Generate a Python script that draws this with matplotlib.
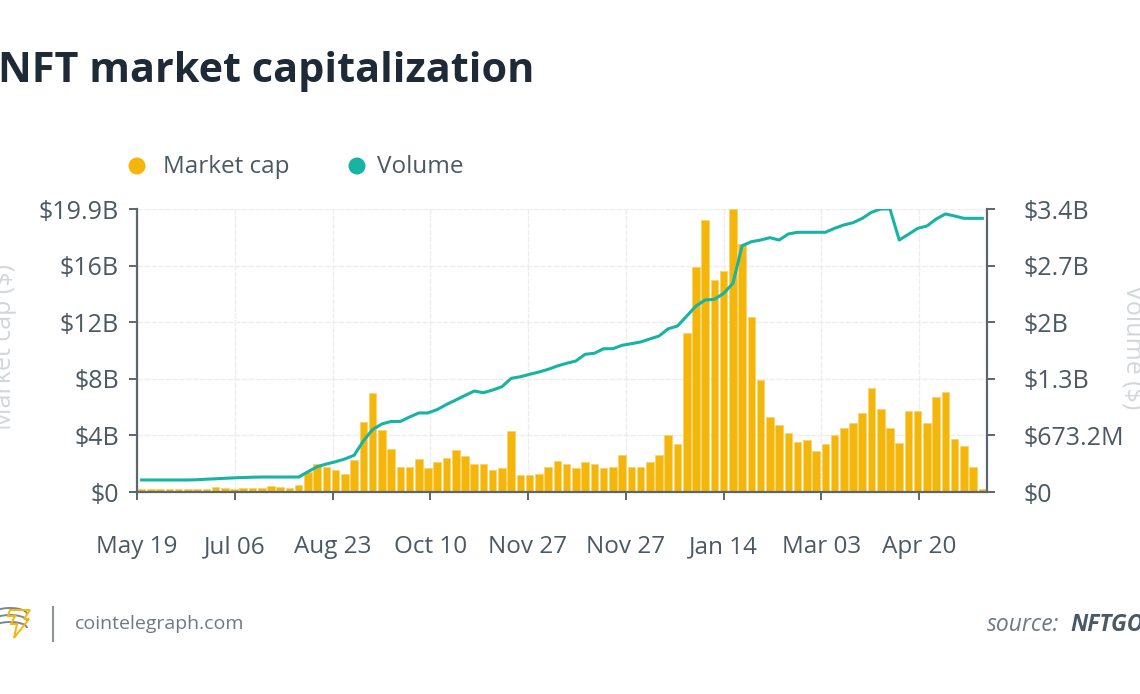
import numpy as np
import matplotlib
matplotlib.use("Agg")
import matplotlib.pyplot as plt
from matplotlib.patches import Arc, Polygon

# weekly-ish points, values in billions of dollars
market_cap = [
    0.21, 0.21, 0.21, 0.21, 0.21, 0.21, 0.21, 0.21, 0.33, 0.26,
    0.21, 0.28, 0.28, 0.28, 0.40, 0.33, 0.26, 0.49, 1.43, 1.95,
    1.74, 1.55, 1.24, 2.25, 4.90, 6.94, 4.36, 3.02, 1.78, 1.78,
    2.32, 1.67, 2.09, 2.41, 2.95, 2.53, 1.97, 1.97, 1.55, 1.69,
    4.29, 1.17, 1.17, 1.24, 1.78, 2.16, 1.97, 1.67, 2.09, 1.97,
    1.67, 1.78, 2.58, 1.78, 1.73, 2.09, 2.58, 4.03, 3.35, 11.16,
    15.82, 19.10, 14.91, 15.52, 19.90, 17.42, 12.28, 7.85, 5.30, 4.69,
    4.13, 3.54, 3.66, 2.88, 3.35, 4.03, 4.50, 4.83, 5.56, 7.29,
    5.86, 4.50, 3.42, 5.72, 5.67, 4.88, 6.70, 7.01, 3.73, 3.24,
    1.78, 0.19,
]
volume = [
    0.143, 0.143, 0.143, 0.143, 0.143, 0.143, 0.146, 0.152, 0.157, 0.163,
    0.168, 0.172, 0.176, 0.178, 0.178, 0.178, 0.178, 0.178, 0.241, 0.301,
    0.333, 0.360, 0.393, 0.437, 0.607, 0.743, 0.809, 0.839, 0.839, 0.892,
    0.940, 0.940, 0.981, 1.041, 1.094, 1.148, 1.201, 1.181, 1.213, 1.252,
    1.352, 1.371, 1.400, 1.427, 1.459, 1.499, 1.531, 1.558, 1.638, 1.650,
    1.704, 1.704, 1.745, 1.764, 1.784, 1.820, 1.855, 1.942, 1.974, 2.093,
    2.212, 2.284, 2.292, 2.363, 2.482, 2.930, 2.977, 2.997, 3.025, 2.997,
    3.069, 3.089, 3.089, 3.089, 3.089, 3.136, 3.176, 3.203, 3.255, 3.327,
    3.366, 3.366, 2.997, 3.065, 3.136, 3.164, 3.247, 3.307, 3.283, 3.255,
    3.255, 3.255,
]
x_labels = ["May 19", "Jul 06", "Aug 23", "Oct 10", "Nov 27", "Nov 27", "Jan 14", "Mar 03", "Apr 20"]
cap_max = 19.9
vol_max = 3.366
cap_tick_labels = ["$0", "$4B", "$8B", "$12B", "$16B", "$19.9B"]
vol_tick_labels = ["$0", "$673.2M", "$1.3B", "$2B", "$2.7B", "$3.4B"]

YELLOW = "#F5B60C"
TEAL = "#17B3A3"
AXIS = "#5B6770"
TEXT = "#4A5963"
LIGHT = "#D3D7DA"

plt.rcParams["font.family"] = ["Open Sans", "DejaVu Sans"]

fig = plt.figure(figsize=(11.4, 6.94), dpi=100)
ax = fig.add_axes([137 / 1140, 1 - 492 / 694, 850 / 1140, 283 / 694])
ax2 = ax.twinx()

x = np.arange(len(market_cap))
ax.bar(x, market_cap, width=0.82, color=YELLOW, edgecolor="#F8D36A", linewidth=0.6, zorder=2)
ax2.plot(x, volume, color=TEAL, linewidth=2.2, solid_joinstyle="round", zorder=3)

ax.set_xlim(-0.5, len(market_cap) - 0.5)
ax.set_ylim(0, cap_max)
ax2.set_ylim(0, vol_max)

tick_step = 10.58
ax.set_xticks([-0.5 + k * tick_step for k in range(len(x_labels))])
ax.set_xticklabels(x_labels)
ax.set_yticks(np.linspace(0, cap_max, 6))
ax.set_yticklabels(cap_tick_labels)
ax2.set_yticks(np.linspace(0, vol_max, 6))
ax2.set_yticklabels(vol_tick_labels)

ax.grid(True, color="#EDEDED", linewidth=1.0, linestyle=(0, (4, 1)))
ax.set_axisbelow(True)

for s in ("top", "right"):
    ax.spines[s].set_visible(False)
for s in ("top", "left", "bottom"):
    ax2.spines[s].set_visible(False)
for sp in (ax.spines["left"], ax.spines["bottom"], ax2.spines["right"]):
    sp.set_color(AXIS)
    sp.set_linewidth(1.6)

ax.tick_params(axis="y", length=6, width=1.4, color=AXIS, labelcolor=TEXT, labelsize=18, pad=7)
ax.tick_params(axis="x", length=6, width=1.4, color=AXIS, labelcolor=TEXT, labelsize=17.5, pad=25)
ax2.tick_params(axis="y", length=6, width=1.4, color=AXIS, labelcolor=TEXT, labelsize=18, pad=20)
for lbl in ax.get_xticklabels():
    lbl.set_x(lbl.get_position()[0])

fig.text(5 / 1140, 1 - 347 / 694, "Market cap ($)", rotation=90, color=LIGHT,
         fontsize=18, ha="center", va="center")
fig.text(1133 / 1140, 1 - 347 / 694, "Volume ($)", rotation=270, color=LIGHT,
         fontsize=18, ha="center", va="center")

fig.text(-2 / 1140, 1 - 71 / 694, "NFT market capitalization", fontsize=29.8, fontweight="bold",
         color="#1E2B36", ha="left", va="center")

# legend and footer drawn in pixel coordinates
lax = fig.add_axes([0, 0, 1, 1], facecolor="none")
lax.set_xlim(0, 1140)
lax.set_ylim(694, 0)
lax.axis("off")
lax.scatter([137], [166], s=150, color=YELLOW, edgecolors="none")
lax.text(163, 167, "Market cap", fontsize=17.5, color=TEXT, va="center", ha="left")
lax.scatter([357], [166], s=150, color=TEAL, edgecolors="none")
lax.text(377, 167, "Volume", fontsize=17.5, color=TEXT, va="center", ha="left")

for dy in (0, 7, 14):
    lax.add_patch(Arc((10, 614 + dy), 34, 12, theta1=200, theta2=360, color="#7C8890", lw=1.4))
lax.add_patch(Polygon([[10, 610], [30, 610], [24, 619], [29, 619], [14, 638], [17, 624], [11, 624], [15, 616], [8, 616]],
                      closed=True, fill=False, edgecolor=YELLOW, lw=1.4))
lax.plot([53, 53], [607, 641], color="#8A949B", lw=1.5)
lax.text(75, 624, "cointelegraph.com", fontsize=14, color="#6E7A82", va="center", ha="left")
lax.text(987, 625, "source:", fontsize=16.5, color="#6E7A82", va="center", ha="left",
         fontstyle="italic")
lax.text(1070, 625, "NFTGO", fontsize=16.5, color="#4A5963", va="center", ha="left",
         fontstyle="italic", fontweight="bold")

fig.savefig("out.png", dpi=100)
